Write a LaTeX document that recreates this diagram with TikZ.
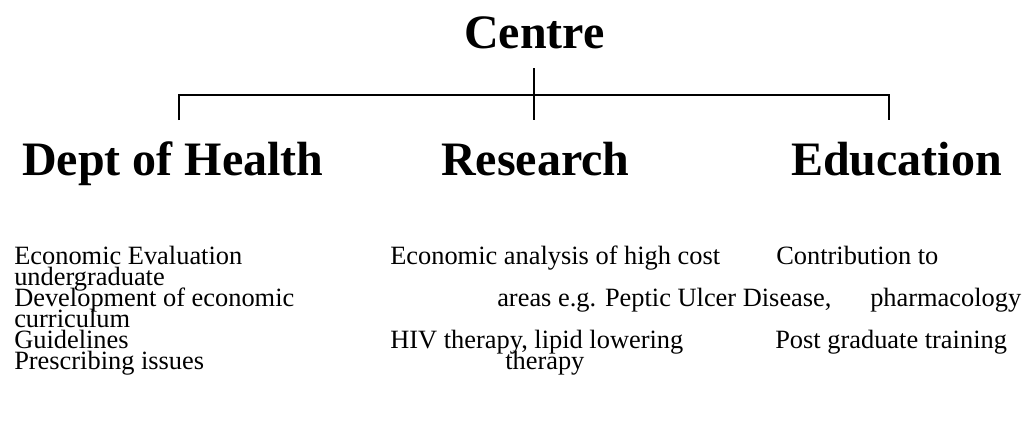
\documentclass[tikz,border=0pt]{standalone}
\usepackage{fontspec}
\setmainfont{Liberation Serif}
\usepackage{tikz}

\begin{document}
\begin{tikzpicture}[x=0.75pt,y=-0.75pt,
    head/.style={anchor=base west,inner sep=0pt,font=\fontsize{36}{43}\selectfont\bfseries},
    item/.style={anchor=base west,inner sep=0pt,font=\fontsize{19.8}{22}\selectfont},
    link/.style={line width=1.5pt}]
  \useasboundingbox (0,0) rectangle (1034,421);
  \node[head] (centre) at (464,48) {Centre};
  \node[head] (health) at (22,175) {Dept of Health};
  \node[head] (research) at (441,175) {Research};
  \node[head] (education) at (791,175) {Education};
  \coordinate (top) at (534,68);
  \coordinate (left) at (179,95);
  \coordinate (right) at (889,95);
  \coordinate (healthend) at (179,120);
  \coordinate (researchend) at (534,120);
  \coordinate (educationend) at (889,120);
  \draw[link] (top) -- (researchend);
  \draw[link] (healthend) -- (left) -- (right) -- (educationend);
  \node[item] (evaluation) at (14,264) {Economic Evaluation};
  \node[item] (undergrad) at (14,285) {undergraduate};
  \node[item] (development) at (14,306) {Development of economic};
  \node[item] (curriculum) at (14,327) {curriculum};
  \node[item] (guidelines) at (14,348) {Guidelines};
  \node[item] (prescribing) at (14,369) {Prescribing issues};
  \node[item] (analysis) at (390,264) {Economic analysis of high cost};
  \node[item] (areas) at (497,306) {areas e.g. Peptic Ulcer Disease,};
  \node[item] (hiv) at (390,348) {HIV therapy, lipid lowering};
  \node[item] (therapy) at (505,369) {therapy};
  \node[item] (contribution) at (776,264) {Contribution to};
  \node[item] (pharmacology) at (870,306) {pharmacology};
  \node[item] (postgrad) at (775,348) {Post graduate training};
\end{tikzpicture}
\end{document}
